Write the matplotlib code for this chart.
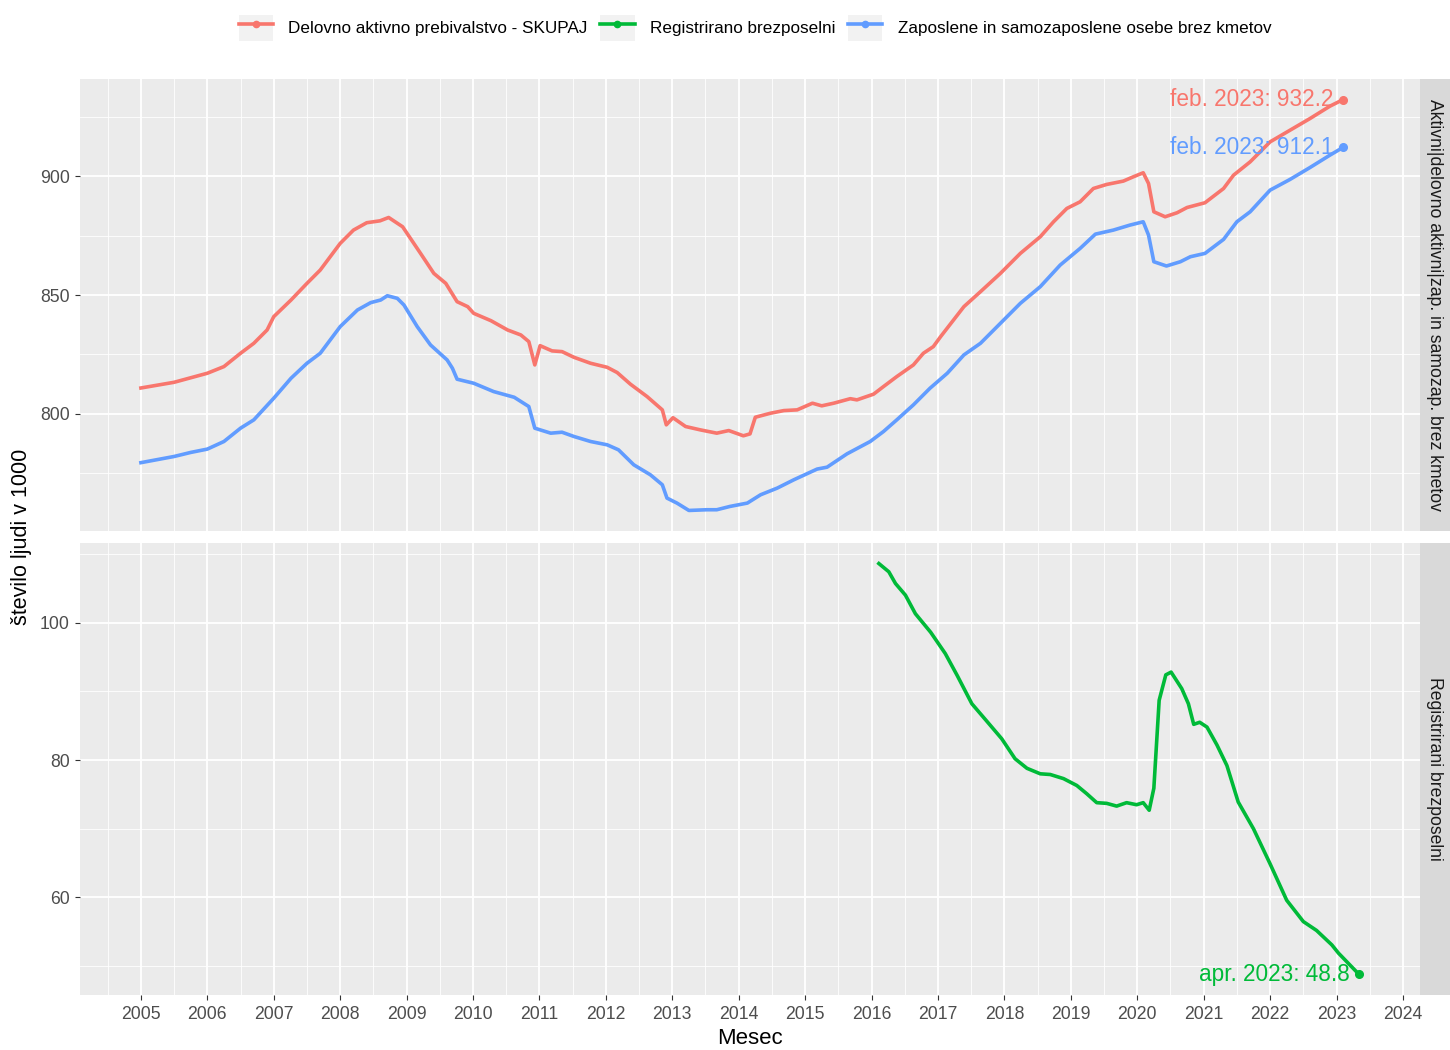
import numpy as np
import pandas as pd
import matplotlib
matplotlib.use('Agg')
import matplotlib.pyplot as plt
from matplotlib.lines import Line2D
from matplotlib.patches import Rectangle
from matplotlib.legend_handler import HandlerTuple
from matplotlib.ticker import MultipleLocator

plt.rcParams['font.family'] = ['Liberation Sans', 'DejaVu Sans']

# values (x = decimal year, y = thousands of people)
aktivni_x = [2005.0, 2005.5, 2006.0, 2006.25, 2006.5, 2006.7, 2006.9, 2007.0, 2007.26, 2007.5,
             2007.7, 2008.0, 2008.2, 2008.4, 2008.6, 2008.73, 2008.94, 2009.21, 2009.41, 2009.59,
             2009.76, 2009.92, 2010.01, 2010.27, 2010.52, 2010.72, 2010.84, 2010.93, 2011.01, 2011.19,
             2011.34, 2011.52, 2011.77, 2012.02, 2012.17, 2012.37, 2012.62, 2012.85, 2012.91, 2013.01,
             2013.2, 2013.42, 2013.67, 2013.85, 2014.07, 2014.17, 2014.25, 2014.48, 2014.68, 2014.88,
             2015.11, 2015.25, 2015.43, 2015.68, 2015.78, 2016.03, 2016.18, 2016.38, 2016.63, 2016.78,
             2016.93, 2017.04, 2017.39, 2017.64, 2017.94, 2018.24, 2018.54, 2018.74, 2018.94, 2019.14,
             2019.34, 2019.54, 2019.79, 2019.94, 2020.09, 2020.17, 2020.25, 2020.42, 2020.6, 2020.75,
             2021.02, 2021.3, 2021.45, 2021.7, 2022.0, 2022.3, 2022.6, 2022.9, 2023.1]
aktivni_y = [810.9, 813.3, 817.1, 819.9, 825.5, 829.7, 835.3, 840.9, 847.9, 854.9,
             860.5, 871.7, 877.3, 880.4, 881.2, 882.6, 878.7, 867.5, 859.1, 854.9,
             847.2, 845.1, 842.3, 839.2, 835.3, 833.2, 830.4, 820.6, 828.7, 826.5,
             826.2, 823.8, 821.3, 819.6, 817.4, 812.5, 807.3, 801.7, 795.4, 798.4,
             794.7, 793.3, 791.9, 793.0, 790.8, 791.6, 798.6, 800.3, 801.4, 801.7,
             804.5, 803.4, 804.5, 806.4, 805.9, 808.3, 811.5, 815.7, 820.6, 825.5,
             828.3, 832.5, 845.1, 851.4, 859.1, 867.5, 874.5, 880.8, 886.4, 889.2,
             894.8, 896.5, 897.9, 899.7, 901.4, 896.9, 885.0, 882.9, 884.6, 886.8,
             888.8, 894.8, 900.4, 906.0, 914.4, 919.3, 924.2, 929.4, 932.2]

zaposleni_x = [2005.0, 2005.5, 2005.75, 2006.0, 2006.25, 2006.5, 2006.7, 2007.0, 2007.26, 2007.5,
               2007.7, 2008.0, 2008.26, 2008.46, 2008.61, 2008.71, 2008.86, 2008.96, 2009.16, 2009.36,
               2009.61, 2009.69, 2009.76, 2010.01, 2010.31, 2010.62, 2010.84, 2010.93, 2011.17, 2011.34,
               2011.52, 2011.77, 2012.02, 2012.19, 2012.42, 2012.67, 2012.85, 2012.92, 2013.07, 2013.25,
               2013.52, 2013.67, 2013.87, 2014.13, 2014.33, 2014.58, 2014.83, 2015.18, 2015.33, 2015.63,
               2015.98, 2016.18, 2016.38, 2016.63, 2016.88, 2017.14, 2017.39, 2017.64, 2017.94, 2018.24,
               2018.54, 2018.84, 2019.14, 2019.37, 2019.64, 2019.89, 2020.09, 2020.17, 2020.25, 2020.44,
               2020.65, 2020.8, 2021.02, 2021.3, 2021.5, 2021.7, 2022.0, 2022.3, 2022.6, 2022.9, 2023.1]
zaposleni_y = [779.5, 782.1, 783.8, 785.2, 788.4, 794.0, 797.5, 806.6, 815.0, 821.3,
               825.5, 836.7, 843.7, 846.8, 847.9, 849.7, 848.6, 845.8, 836.7, 829.0,
               822.7, 819.2, 814.6, 812.9, 809.4, 807.0, 803.1, 794.0, 791.9, 792.3,
               790.5, 788.4, 787.0, 784.9, 778.6, 774.4, 770.2, 764.6, 762.5, 759.4,
               759.7, 759.7, 761.1, 762.5, 766.0, 768.8, 772.3, 776.8, 777.6, 783.2,
               788.4, 792.6, 797.5, 803.8, 810.8, 817.1, 824.8, 829.7, 838.1, 846.5,
               853.5, 862.6, 869.6, 875.6, 877.3, 879.4, 880.8, 875.2, 864.0, 862.2,
               864.0, 866.1, 867.5, 873.4, 880.8, 885.0, 894.1, 898.6, 903.6, 908.8, 912.1]

brezposelni_x = [2016.11, 2016.26, 2016.36, 2016.51, 2016.66, 2016.89, 2017.11, 2017.29, 2017.51, 2017.74,
                 2017.96, 2018.16, 2018.34, 2018.54, 2018.69, 2018.89, 2019.09, 2019.24, 2019.39, 2019.54,
                 2019.69, 2019.84, 2019.99, 2020.09, 2020.18, 2020.25, 2020.33, 2020.43, 2020.51, 2020.67,
                 2020.77, 2020.85, 2020.94, 2021.05, 2021.2, 2021.35, 2021.52, 2021.75, 2022.0, 2022.25,
                 2022.5, 2022.7, 2022.93, 2023.03, 2023.34]
brezposelni_y = [108.6, 107.4, 105.7, 104.0, 101.3, 98.6, 95.5, 92.3, 88.2, 85.6,
                 83.1, 80.2, 78.8, 78.0, 77.9, 77.3, 76.3, 75.1, 73.8, 73.7,
                 73.3, 73.8, 73.5, 73.8, 72.7, 75.9, 88.7, 92.4, 92.8, 90.4,
                 88.2, 85.2, 85.5, 84.8, 82.2, 79.2, 73.9, 70.0, 64.9, 59.6,
                 56.5, 55.2, 53.1, 51.9, 48.8]

serije = ['Delovno aktivno prebivalstvo - SKUPAJ', 'Registrirano brezposelni',
          'Zaposlene in samozaposlene osebe brez kmetov']
barve = ['#F8766D', '#00BA38', '#619CFF']
end_labels = ['feb. 2023: 932.2', 'apr. 2023: 48.8', 'feb. 2023: 912.1']
strip_labels = ['Aktivni|delovno aktivni|zap. in samozap. brez kmetov', 'Registrirani brezposelni']
leta = list(range(2005, 2025))


def expand(vals):
    lo, hi = min(vals), max(vals)
    d = (hi - lo) * 0.05
    return lo - d, hi + d


W, H = 1450, 1050
fig = plt.figure(figsize=(W / 100, H / 100), dpi=100)
ax1 = fig.add_axes([80 / W, 1 - 531 / H, 1340 / W, 452 / H])
ax2 = fig.add_axes([80 / W, 1 - 995 / H, 1340 / W, 452 / H])

xlim = expand(aktivni_x + brezposelni_x)
LW = 2.6

for ax in (ax1, ax2):
    ax.set_facecolor('#EBEBEB')
    for s in ax.spines.values():
        s.set_visible(False)
    ax.set_axisbelow(True)
    ax.set_xlim(xlim)
    ax.set_xticks(leta)
    ax.xaxis.set_minor_locator(MultipleLocator(0.5))
    ax.grid(which='major', color='white', linewidth=1.3)
    ax.grid(which='minor', color='white', linewidth=0.6)
    ax.tick_params(which='major', length=3.5, width=0.8, color='#333333',
                   labelsize=12.7, labelcolor='#4D4D4D')
    ax.tick_params(axis='x', which='major', pad=4.5)
    ax.tick_params(axis='y', which='major', pad=4)
    ax.tick_params(which='minor', length=0)

ax1.tick_params(axis='x', which='both', bottom=False, labelbottom=False)

# top panel
ax1.plot(aktivni_x, aktivni_y, color=barve[0], lw=LW, solid_joinstyle='round')
ax1.plot(zaposleni_x, zaposleni_y, color=barve[2], lw=LW, solid_joinstyle='round')
ax1.set_ylim(expand(aktivni_y + zaposleni_y))
ax1.set_yticks([800, 850, 900])
ax1.yaxis.set_minor_locator(MultipleLocator(25))

# bottom panel
ax2.plot(brezposelni_x, brezposelni_y, color=barve[1], lw=LW, solid_joinstyle='round')
ax2.set_ylim(expand(brezposelni_y))
ax2.set_yticks([60, 80, 100])
ax2.yaxis.set_minor_locator(MultipleLocator(10))

# end points with labels
for ax, xs, ys, c, lab in [(ax1, aktivni_x, aktivni_y, barve[0], end_labels[0]),
                           (ax1, zaposleni_x, zaposleni_y, barve[2], end_labels[2]),
                           (ax2, brezposelni_x, brezposelni_y, barve[1], end_labels[1])]:
    ax.plot(xs[-1], ys[-1], 'o', color=c, ms=5.5)
    ax.annotate(lab, (xs[-1], ys[-1]), xytext=(-7, 0), textcoords='offset points',
                ha='right', va='center', color=c, fontsize=16.3)

# facet strips on the right
for ax, lab in zip((ax1, ax2), strip_labels):
    pos = ax.get_position()
    sax = fig.add_axes([1420 / W, pos.y0, 30 / W, pos.height])
    sax.set_facecolor('#D9D9D9')
    sax.set_xticks([])
    sax.set_yticks([])
    for s in sax.spines.values():
        s.set_visible(False)
    sax.text(0.5, 0.5, lab, rotation=270, ha='center', va='center',
             fontsize=12.7, color='#1A1A1A', transform=sax.transAxes)

fig.text(22 / W, 1 - 537 / H, 'število ljudi v 1000', rotation=90,
         ha='center', va='center', fontsize=15.5)
fig.text(750 / W, 1 - 1039 / H, 'Mesec', ha='center', va='center', fontsize=16)

# legend with grey key boxes
handles = []
for c in barve:
    box = Rectangle((0, 0), 1, 1, facecolor='#F2F2F2', edgecolor='none')
    ln = Line2D([0], [0], color=c, lw=LW, marker='o', ms=4.5)
    handles.append((box, ln))
fig.legend(handles, serije, loc='center', bbox_to_anchor=(755 / W, 1 - 28 / H), ncol=3,
           frameon=False, fontsize=12.3, handlelength=2.0, handleheight=2.0,
           handletextpad=0.9, columnspacing=0.75,
           handler_map={tuple: HandlerTuple(ndivide=1, pad=0)})

fig.savefig('out.png', dpi=100)
